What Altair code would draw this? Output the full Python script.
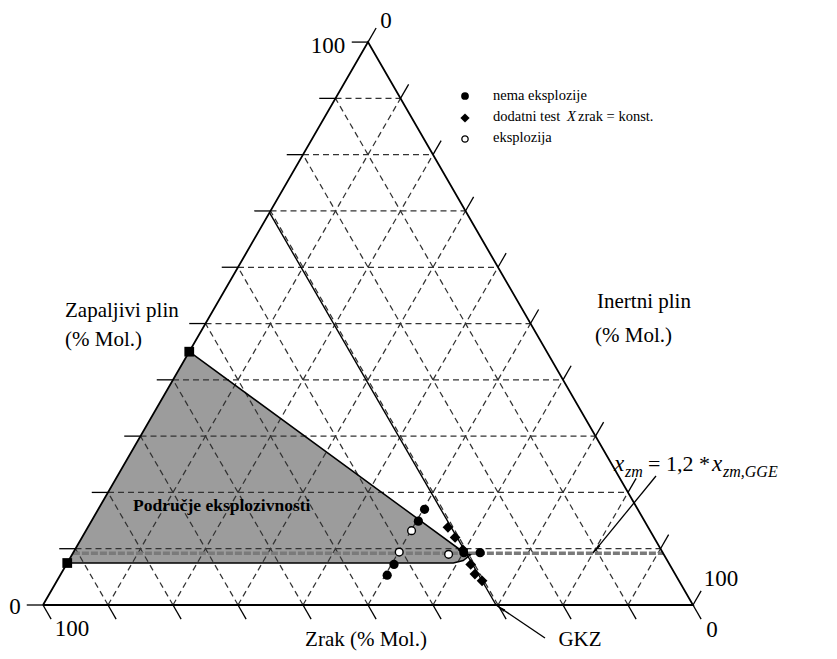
import math
import altair as alt
import pandas as pd

# ---------------- data (mol %) ----------------
grid_levels = [0, 10, 20, 30, 40, 50, 60, 70, 80, 90, 100]

# no explosion (black circles): flammable %, inert %
no_expl_f = [17.0, 14.9, 7.2, 5.3, 9.3, 9.3]
no_expl_i = [50.2, 50.3, 50.4, 50.3, 60.1, 62.6]

# explosion (open circles)
expl_f = [13.2, 9.4, 9.0]
expl_i = [50.1, 50.1, 57.9]

# extra test, air = const (diamonds)
extra_f = [13.8, 12.0, 9.8, 7.2, 5.5, 4.3]
extra_i = [55.4, 57.4, 59.7, 62.2, 63.7, 65.4]

# explosive region boundary (flammable %, inert %)
region_f = [45.0, 9.2, 8.9, 7.9, 7.46, 7.46]
region_i = [0.0, 60.3, 61.3, 60.7, 59.4, 0.0]

# square corner markers
corner_f = [45.0, 7.46]
corner_i = [0.0, 0.0]

gkz_air = 30.3      # limiting air line
xzm_f = 9.2         # x_zm = 1.2 * x_zm,GGE

# ---------------- layout ----------------
OX, OY, SIDE = 43.0, 605.0, 650.0   # page px of bottom-left vertex, side length
W, H = 821, 643
TICK = 2.5
S3 = math.sqrt(3) / 2


def tern(f, i):
    """flammable %, inert % -> cartesian (side units)"""
    return i / 100 + f / 200, f / 100 * S3


def pg(x, y):
    """page pixel -> cartesian (side units) (for annotations)"""
    return (x - OX) / SIDE, (OY - y) / SIDE


xs = alt.Scale(domain=[(8 - OX) / SIDE, (8 + W - OX) / SIDE], nice=False, zero=False)
ys = alt.Scale(domain=[(OY - 8 - H) / SIDE, (OY - 8) / SIDE], nice=False, zero=False)
X = alt.X("X:Q", scale=xs, axis=None)
Y = alt.Y("Y:Q", scale=ys, axis=None)

segs = []


def seg(style, pts):
    sid = len(segs)
    for k, (x, y) in enumerate(pts):
        segs.append(dict(id=sid, ord=k, X=x, Y=y, style=style))


# triangle edges
seg("edge", [tern(0, 0), tern(0, 100), tern(100, 0), tern(0, 0)])

for v in grid_levels:
    # constant flammable (horizontal)
    if 0 < v < 100:
        seg("grid", [tern(v, 0), tern(v, 100 - v)])
    seg("tick", [tern(v, 0), tern(v, -TICK)])
    # constant inert ("/")
    if 0 < v < 100:
        seg("grid", [tern(0, v), tern(100 - v, v)])
    seg("tick", [tern(100 - v, v), tern(100 - v + TICK, v)])
    # constant air ("\")
    if 0 < v < 100:
        seg("grid", [tern(0, 100 - v), tern(100 - v, 0)])
    seg("tick", [tern(0, 100 - v), tern(-TICK, 100 - v + TICK)])

seg("gkz", [tern(0, 100 - gkz_air), tern(100 - gkz_air, 0)])
seg("xzm", [tern(xzm_f, 0), tern(xzm_f, 100 - xzm_f)])
seg("outline", [tern(f, i) for f, i in zip(region_f, region_i)])

# arrows (annotation)
gkz_tip = tern(0, 100 - gkz_air)
gkz_start = pg(545, 638)
seg("arrow", [gkz_start, gkz_tip])
xzm_tip = tern(xzm_f, 80.0)
xzm_start = pg(656, 476)
seg("arrow", [xzm_start, xzm_tip])

lines = pd.DataFrame(segs)


def line_layer(style, **kw):
    return (
        alt.Chart(lines)
        .transform_filter(alt.datum.style == style)
        .mark_line(**kw)
        .encode(x=X, y=Y, detail="id:N", order="ord:Q")
    )


# region area (horizontal orientation)
area_rows = []
for f, i in sorted(zip(region_f[1:5], region_i[1:5])) + [(region_f[0], region_i[0])]:
    x_left, y = tern(f, 0)
    x_right, _ = tern(f, i)
    area_rows.append(dict(X=x_left, X2=x_right, Y=y))
area_df = pd.DataFrame(area_rows)
region = alt.Chart(area_df).mark_area(orient="horizontal", color="#9c9c9c", opacity=1).encode(
    x=X, x2="X2:Q", y=Y
)


def pts_df(fs, is_):
    return pd.DataFrame([dict(zip(("X", "Y"), tern(f, i))) for f, i in zip(fs, is_)])


no_expl = alt.Chart(pts_df(no_expl_f, no_expl_i)).mark_point(
    shape="circle", filled=True, color="black", size=85, opacity=1
).encode(x=X, y=Y)
extra = alt.Chart(pts_df(extra_f, extra_i)).mark_point(
    shape="diamond", filled=True, color="black", size=115, opacity=1
).encode(x=X, y=Y)
expl = alt.Chart(pts_df(expl_f, expl_i)).mark_point(
    shape="circle", filled=True, fill="white", stroke="black", strokeWidth=1.4, size=60, opacity=1
).encode(x=X, y=Y)
corners = alt.Chart(pts_df(corner_f, corner_i)).mark_point(
    shape="square", filled=True, color="black", size=95, opacity=1
).encode(x=X, y=Y)


def ang(start, tip):
    dx = (tip[0] - start[0])
    dy = -(tip[1] - start[1])  # screen y down
    a = math.degrees(math.atan2(dx, -dy))
    return a % 360


def back(start, tip, d):
    dx, dy = tip[0] - start[0], tip[1] - start[1]
    L = math.hypot(dx, dy)
    return tip[0] - dx / L * d, tip[1] - dy / L * d


heads = pd.DataFrame([
    dict(zip(("X", "Y"), back(gkz_start, gkz_tip, 7 / SIDE)), a=ang(gkz_start, gkz_tip)),
    dict(zip(("X", "Y"), back(xzm_start, xzm_tip, 7 / SIDE)), a=ang(xzm_start, xzm_tip)),
])
arrowheads = alt.Chart(heads).mark_point(shape="wedge", filled=True, color="black", size=120, opacity=1).encode(
    x=X, y=Y, angle=alt.Angle("a:Q", scale=None)
)

# legend
leg_x = 465
leg = pd.DataFrame([dict(zip(("X", "Y"), pg(leg_x, y))) for y in (96, 118, 139)])
leg_circ = alt.Chart(leg.iloc[[0]]).mark_point(shape="circle", filled=True, color="black", size=60, opacity=1).encode(x=X, y=Y)
leg_dia = alt.Chart(leg.iloc[[1]]).mark_point(shape="diamond", filled=True, color="black", size=85, opacity=1).encode(x=X, y=Y)
leg_open = alt.Chart(leg.iloc[[2]]).mark_point(shape="circle", filled=True, fill="white", stroke="black", strokeWidth=1.3, size=40, opacity=1).encode(x=X, y=Y)

FONT = "Liberation Serif"


def text_layer(items, **kw):
    df = pd.DataFrame([dict(zip(("X", "Y"), pg(x, y)), t=t) for x, y, t in items])
    base = dict(font=FONT, color="black", baseline="middle")
    base.update(kw)
    return alt.Chart(df).mark_text(**base).encode(x=X, y=Y, text="t:N")


tick_labels = text_layer(
    [(328, 46, "100"), (386, 21, "0"), (15, 607, "0"), (72, 629, "100"), (721, 579, "100"), (712, 630, "0")],
    fontSize=23, align="center",
)
axis_titles = text_layer(
    [(65, 311, "Zapaljivi plin"), (65, 340, "(% Mol.)"), (597, 302, "Inertni plin"), (595, 336, "(% Mol.)")],
    fontSize=21, align="left",
)
bottom_titles = text_layer([(366, 640, "Zrak (% Mol.)"), (580, 640, "GKZ")], fontSize=21, align="center")
region_label = text_layer([(133, 506, "Područje eksplozivnosti")], fontSize=17.5, fontWeight="bold", align="left")
legend_text = text_layer(
    [(493, 96, "nema eksplozije"), (493, 117, "dodatni test"), (578, 117, "zrak = konst."), (493, 138, "eksplozija")],
    fontSize=14.5, align="left",
)
legend_italic = text_layer([(567, 117, "X")], fontSize=14.5, fontStyle="italic", align="left")

xzm_big = text_layer([(614, 464, "x"), (712, 464, "x")], fontSize=23, fontStyle="italic", align="left")
xzm_sub = text_layer([(625, 472, "zm"), (723, 472, "zm,GGE")], fontSize=16, fontStyle="italic", align="left")
xzm_mid = text_layer([(648, 464, "= 1,2 *")], fontSize=22, align="left")

chart = alt.layer(
    region,
    line_layer("grid", color="#333333", strokeWidth=1.25, strokeDash=[6, 4]),
    line_layer("xzm", color="#7a7a7a", strokeWidth=3.4, strokeDash=[7, 2]),
    line_layer("tick", color="black", strokeWidth=1.3),
    line_layer("edge", color="black", strokeWidth=1.8),
    line_layer("gkz", color="black", strokeWidth=1.4),
    line_layer("outline", color="black", strokeWidth=1.5),
    line_layer("arrow", color="black", strokeWidth=1.3),
    arrowheads,
    corners,
    expl,
    no_expl,
    extra,
    leg_circ, leg_dia, leg_open,
    tick_labels, axis_titles, bottom_titles, region_label, legend_text, legend_italic,
    xzm_big, xzm_sub, xzm_mid,
).properties(
    width=W, height=H, padding=0, autosize=alt.AutoSizeParams(type="none")
).configure_view(stroke=None)

chart.save("out.html", embed_options={"renderer": "svg", "actions": False})
